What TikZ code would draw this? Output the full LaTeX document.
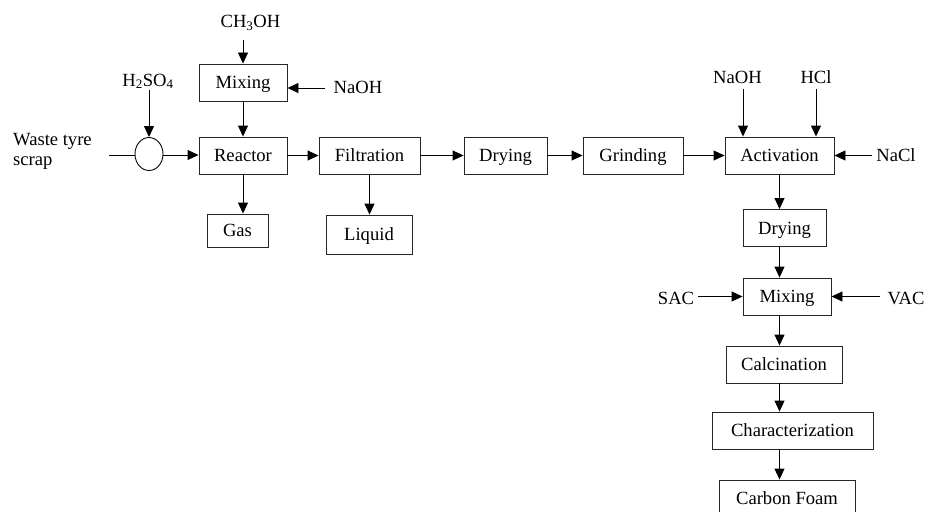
\documentclass[tikz,border=0pt]{standalone}
\usepackage{fontspec}
\setmainfont{Liberation Serif}
\usetikzlibrary{arrows.meta,shapes.geometric}
\tikzset{
  box/.style={draw=black!85, line width=0.9pt, inner sep=0pt, minimum height=37pt, text height=14pt, text depth=2pt},
  lbl/.style={inner sep=0pt, anchor=base},
  flow/.style={line width=0.9pt, -{Triangle[length=11pt,width=10pt]}},
  plain/.style={line width=0.9pt}
}
\begin{document}
\begin{tikzpicture}[x=1pt,y=-1pt, font=\fontsize{18.6}{20}\selectfont]
\useasboundingbox (0,0) rectangle (928,511);
\clip (0,0) rectangle (928,511);
% process boxes
\node[box, minimum width=88pt] (mix1) at (243,82.5) {Mixing};
\node[box, minimum width=88pt] (reactor) at (243,155.5) {Reactor};
\node[box, minimum width=101pt] (filt) at (369.5,155.5) {Filtration};
\node[box, minimum width=61pt, minimum height=33pt] (gas) at (237.5,230.5) {Gas};
\node[box, minimum width=86pt, minimum height=39pt] (liquid) at (369,234.5) {Liquid};
\node[box, minimum width=83pt] (dry1) at (505.5,155.5) {Drying};
\node[box, minimum width=100pt] (grind) at (633,155.5) {Grinding};
\node[box, minimum width=109pt] (act) at (779.5,155.5) {Activation};
\node[box, minimum width=83pt] (dry2) at (784.5,228) {Drying};
\node[box, minimum width=88pt] (mix2) at (787,296.5) {Mixing};
\node[box, minimum width=116pt] (calc) at (784,364.5) {Calcination};
\node[box, minimum width=161pt] (char) at (792.5,430.5) {Characterization};
\node[box, minimum width=136pt] (foam) at (787,498.5) {Carbon Foam};
% valve
\node[draw, ellipse, line width=0.9pt, inner sep=0pt, minimum width=28pt, minimum height=33pt] (valve) at (149,154) {};
% labels
\node[lbl] (ch3oh) at (250.5,28) {CH\textsubscript{3}OH};
\node[lbl] (naoh1) at (358,93) {NaOH};
\node[lbl] (h2so4) at (148,86) {H\textsubscript{2}SO\textsubscript{4}};
\node[inner sep=0pt, align=left, anchor=base west] (waste) at (13,165.5) {Waste tyre\\scrap};
\node[lbl] (naoh2) at (737.5,83) {NaOH};
\node[lbl] (hcl) at (816,83) {HCl};
\node[lbl] (nacl) at (896,161.5) {NaCl};
\node[lbl] (sac) at (676,304) {SAC};
\node[lbl] (vac) at (906,304) {VAC};
% free ends
\coordinate (cch) at (243,40);
\coordinate (cnaoh1) at (325,88);
\coordinate (ch2) at (149,90);
\coordinate (cwaste) at (109,155);
\coordinate (cnaoh2) at (743,89);
\coordinate (chcl) at (816,89);
\coordinate (cnacl) at (872,155.5);
\coordinate (csac) at (698,296.5);
\coordinate (cvac) at (880,296.5);
% connectors
\draw[flow] (cch) -- (mix1.north);
\draw[flow] (cnaoh1) -- (mix1.east |- cnaoh1);
\draw[flow] (mix1.south) -- (reactor.north);
\draw[flow] (ch2) -- (valve.north);
\draw[plain] (cwaste) -- (valve.west |- cwaste);
\draw[flow] (valve.east |- cwaste) -- (reactor.west |- cwaste);
\draw[flow] (reactor.south) -- (reactor.south |- gas.north);
\draw[flow] (reactor.east) -- (filt.west);
\draw[flow] (filt.south) -- (filt.south |- liquid.north);
\draw[flow] (filt.east) -- (dry1.west);
\draw[flow] (dry1.east) -- (grind.west);
\draw[flow] (grind.east) -- (act.west);
\draw[flow] (cnaoh2) -- (cnaoh2 |- act.north);
\draw[flow] (chcl) -- (chcl |- act.north);
\draw[flow] (cnacl) -- (act.east);
\draw[flow] (act.south) -- (act.south |- dry2.north);
\draw[flow] (dry2.south -| act.south) -- (mix2.north -| act.south);
\draw[flow] (csac) -- (mix2.west);
\draw[flow] (cvac) -- (mix2.east);
\draw[flow] (mix2.south -| act.south) -- (calc.north -| act.south);
\draw[flow] (calc.south -| act.south) -- (char.north -| act.south);
\draw[flow] (char.south -| act.south) -- (foam.north -| act.south);
\end{tikzpicture}
\end{document}
